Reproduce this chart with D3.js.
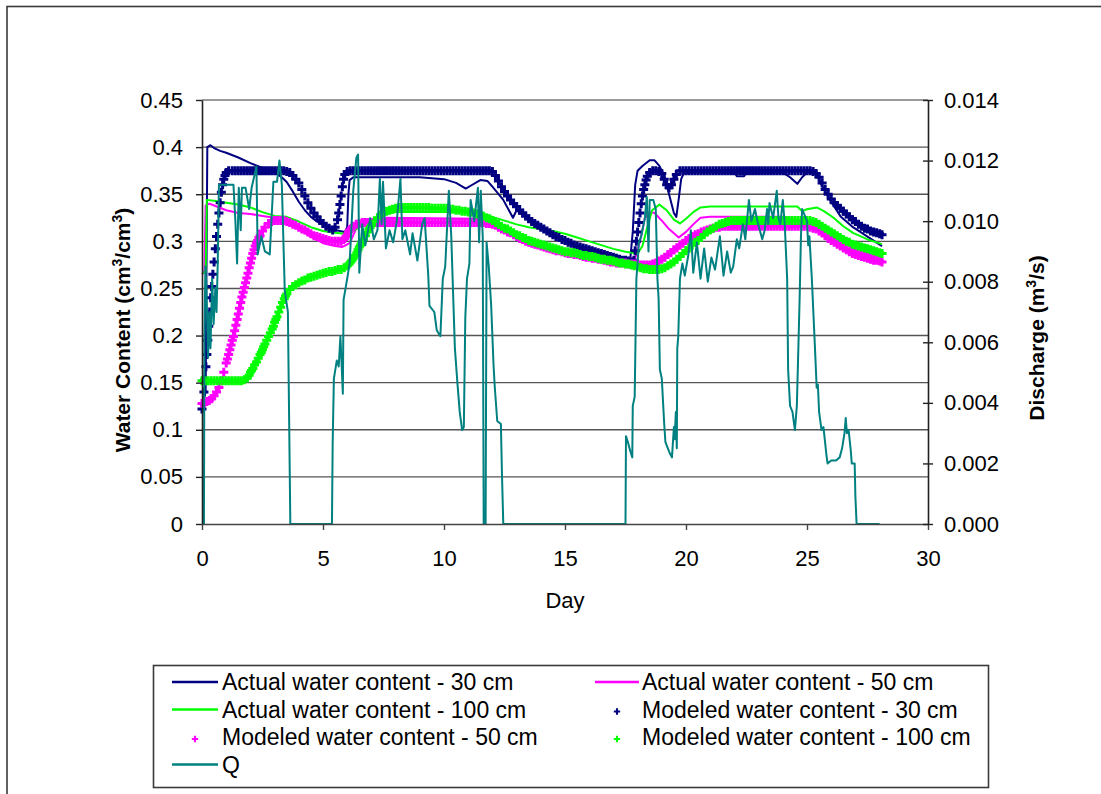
<!DOCTYPE html>
<html>
<head>
<meta charset="utf-8">
<script src="https://cdn.jsdelivr.net/npm/d3@7"></script>
<style>
  html, body { margin: 0; padding: 0; background: #fff; }
  svg { display: block; font-family: "Liberation Sans", Arial, sans-serif; }
</style>
</head>
<body>
<svg id="chart" width="1101" height="794"></svg>
<script>
// ---- Axis ticks and labels ----
const dayTicks = [0, 5, 10, 15, 20, 25, 30];
const dayTickLabels = ["0", "5", "10", "15", "20", "25", "30"];
const wcTicks = [0, 0.05, 0.1, 0.15, 0.2, 0.25, 0.3, 0.35, 0.4, 0.45];
const wcTickLabels = ["0", "0.05", "0.1", "0.15", "0.2", "0.25", "0.3", "0.35", "0.4", "0.45"];
const qTicks = [0, 0.002, 0.004, 0.006, 0.008, 0.010, 0.012, 0.014];
const qTickLabels = ["0.000", "0.002", "0.004", "0.006", "0.008", "0.010", "0.012", "0.014"];

// ---- Measured water content, [day, cm3/cm3] ----
const actual30 = [[0,0.125],[0.15,0.14],[0.22,0.4],[0.35,0.402],[0.5,0.399],[0.75,0.396],[1,0.394],[1.5,0.389],[2,0.383],[2.5,0.378],[3,0.373],[3.25,0.369],[3.5,0.363],[3.75,0.353],[4,0.342],[4.25,0.333],[4.5,0.326],[4.75,0.321],[5,0.318],[5.25,0.315],[5.5,0.312],[5.9,0.31],[6,0.315],[6.05,0.35],[6.1,0.365],[6.25,0.368],[7,0.368],[8,0.368],[9,0.368],[9.5,0.367],[10,0.366],[10.5,0.362],[10.9,0.356],[11.1,0.359],[11.5,0.365],[11.8,0.364],[12,0.358],[12.45,0.344],[12.85,0.325],[13,0.333],[13.5,0.323],[14,0.314],[14.5,0.306],[15,0.3],[15.5,0.294],[16,0.29],[16.5,0.287],[17,0.284],[17.5,0.282],[17.7,0.282],[17.8,0.31],[17.9,0.36],[18,0.375],[18.2,0.38],[18.5,0.386],[18.7,0.386],[18.9,0.38],[19.1,0.37],[19.3,0.35],[19.5,0.33],[19.6,0.326],[19.7,0.345],[19.8,0.366],[19.9,0.372],[20.2,0.373],[22,0.373],[22.1,0.369],[22.4,0.369],[22.5,0.373],[24,0.373],[24.3,0.368],[24.6,0.361],[24.8,0.368],[25,0.373],[25.4,0.372],[25.6,0.36],[25.95,0.344],[26.4,0.326],[26.9,0.315],[27.5,0.305],[28.1,0.295]];

const actual50 = [[0,0.265],[0.1,0.268],[0.15,0.338],[0.3,0.34],[0.5,0.338],[1,0.333],[1.5,0.33],[2,0.329],[2.5,0.327],[3,0.325],[3.5,0.321],[4,0.313],[4.5,0.305],[5,0.298],[5.5,0.295],[5.8,0.294],[6.1,0.298],[6.4,0.315],[6.7,0.322],[7.5,0.325],[11.5,0.324],[12,0.32],[12.5,0.313],[13,0.306],[13.5,0.301],[14,0.297],[14.5,0.294],[15,0.291],[15.5,0.289],[16,0.287],[16.5,0.285],[17,0.283],[17.5,0.282],[17.9,0.282],[18.1,0.3],[18.3,0.325],[18.5,0.331],[18.7,0.33],[19,0.322],[19.3,0.313],[19.7,0.304],[20,0.31],[20.3,0.318],[20.6,0.325],[21,0.326],[24,0.326],[24.5,0.323],[25,0.321],[25.5,0.316],[26,0.306],[26.5,0.298],[27,0.291],[27.5,0.287],[28.1,0.283]];

const actual100 = [[0,0.267],[0.15,0.267],[0.2,0.344],[0.5,0.343],[1,0.341],[1.5,0.339],[2,0.336],[2.5,0.331],[3,0.327],[3.5,0.326],[4,0.321],[4.5,0.315],[5,0.311],[5.5,0.309],[5.9,0.308],[6.3,0.312],[6.8,0.32],[7.3,0.327],[8,0.331],[11,0.331],[11.5,0.329],[12,0.326],[12.5,0.322],[13,0.318],[13.5,0.315],[14,0.313],[14.5,0.311],[15,0.308],[15.5,0.304],[16,0.3],[16.5,0.296],[17,0.292],[17.5,0.289],[18,0.287],[18.2,0.295],[18.4,0.315],[18.6,0.333],[18.9,0.339],[19.2,0.333],[19.5,0.323],[19.75,0.319],[20,0.324],[20.3,0.331],[20.6,0.336],[21,0.337],[24.6,0.337],[24.8,0.332],[25,0.334],[25.4,0.336],[25.7,0.332],[26.1,0.325],[26.5,0.316],[26.9,0.309],[27.5,0.302],[28.1,0.297]];

// ---- Modeled water content, [day, cm3/cm3] ----
const modeled30 = [[0,.122],[.04,.128],[.08,.14],[.12,.153],[.16,.167],[.2,.18],[.24,.195],[.28,.21],[.32,.225],[.36,.24],[.4,.252],[.45,.265],[.5,.278],[.55,.292],[.6,.305],[.65,.318],[.7,.33],[.75,.341],[.8,.352],[.85,.36],[.9,.366],[.95,.37],[1,.373],[1.1,.375],[1.25,.375],[1.375,.375],[1.5,.375],[1.625,.375],[1.75,.375],[1.875,.375],[2,.375],[2.125,.375],[2.25,.375],[2.375,.375],[2.5,.375],[2.625,.375],[2.75,.375],[2.875,.375],[3,.375],[3.125,.375],[3.25,.375],[3.375,.375],[3.5,.374],[3.625,.373],[3.75,.37],[3.875,.366],[4,.362],[4.125,.355],[4.25,.348],[4.375,.341],[4.5,.335],[4.625,.33],[4.75,.326],[4.875,.322],[5,.319],[5.125,.316],[5.25,.314],[5.4,.312],[5.5,.315],[5.6,.323],[5.65,.33],[5.7,.339],[5.75,.348],[5.8,.358],[5.85,.366],[5.9,.371],[6,.374],[6.125,.375],[6.25,.375],[6.375,.375],[6.5,.375],[6.625,.375],[6.75,.375],[6.875,.375],[7,.375],[7.125,.375],[7.25,.375],[7.375,.375],[7.5,.375],[7.625,.375],[7.75,.375],[7.875,.375],[8,.375],[8.125,.375],[8.25,.375],[8.375,.375],[8.5,.375],[8.625,.375],[8.75,.375],[8.875,.375],[9,.375],[9.125,.375],[9.25,.375],[9.375,.375],[9.5,.375],[9.625,.375],[9.75,.375],[9.875,.375],[10,.375],[10.125,.375],[10.25,.375],[10.375,.375],[10.5,.375],[10.625,.375],[10.75,.375],[10.875,.375],[11,.375],[11.125,.375],[11.25,.375],[11.375,.375],[11.5,.375],[11.625,.375],[11.75,.375],[11.875,.375],[12,.374],[12.125,.37],[12.25,.364],[12.375,.358],[12.5,.353],[12.625,.348],[12.75,.344],[12.875,.34],[13,.337],[13.125,.333],[13.25,.33],[13.375,.327],[13.5,.324],[13.625,.321],[13.75,.319],[13.875,.317],[14,.315],[14.125,.313],[14.25,.311],[14.375,.309],[14.5,.307],[14.625,.305],[14.75,.304],[14.875,.302],[15,.301],[15.125,.299],[15.25,.298],[15.375,.296],[15.5,.295],[15.625,.294],[15.75,.293],[15.875,.292],[16,.291],[16.125,.29],[16.25,.289],[16.375,.288],[16.5,.287],[16.625,.286],[16.75,.285],[16.875,.284],[17,.283],[17.125,.282],[17.25,.281],[17.375,.28],[17.5,.28],[17.625,.279],[17.75,.278],[17.85,.28],[17.9,.29],[17.95,.3],[18,.31],[18.05,.32],[18.1,.33],[18.15,.34],[18.2,.348],[18.25,.355],[18.3,.36],[18.35,.365],[18.4,.369],[18.5,.373],[18.625,.375],[18.75,.375],[18.875,.374],[19,.372],[19.1,.366],[19.2,.36],[19.3,.357],[19.4,.36],[19.5,.366],[19.6,.371],[19.75,.375],[19.875,.375],[20,.375],[20.125,.375],[20.25,.375],[20.375,.375],[20.5,.375],[20.625,.375],[20.75,.375],[20.875,.375],[21,.375],[21.125,.375],[21.25,.375],[21.375,.375],[21.5,.375],[21.625,.375],[21.75,.375],[21.875,.375],[22,.375],[22.125,.375],[22.25,.375],[22.375,.375],[22.5,.375],[22.625,.375],[22.75,.375],[22.875,.375],[23,.375],[23.125,.375],[23.25,.375],[23.375,.375],[23.5,.375],[23.625,.375],[23.75,.375],[23.875,.375],[24,.375],[24.125,.375],[24.25,.375],[24.375,.375],[24.5,.375],[24.625,.375],[24.75,.375],[24.875,.375],[25,.375],[25.125,.375],[25.25,.374],[25.375,.372],[25.5,.368],[25.625,.362],[25.75,.355],[25.875,.35],[26,.345],[26.125,.341],[26.25,.338],[26.375,.335],[26.5,.332],[26.625,.329],[26.75,.326],[26.875,.323],[27,.321],[27.125,.318],[27.25,.316],[27.375,.314],[27.5,.313],[27.625,.311],[27.75,.31],[27.875,.309],[28,.308],[28.1,.307]];

const modeled50 = [[0,.128],[.1,.128],[.2,.13],[.3,.131],[.4,.133],[.5,.136],[.6,.14],[.7,.145],[.8,.152],[.9,.161],[1,.171],[1.05,.175],[1.1,.18],[1.15,.185],[1.2,.19],[1.25,.195],[1.3,.199],[1.35,.205],[1.4,.211],[1.45,.217],[1.5,.223],[1.55,.229],[1.6,.235],[1.65,.241],[1.7,.246],[1.75,.251],[1.8,.256],[1.85,.261],[1.9,.266],[1.95,.272],[2,.277],[2.05,.282],[2.1,.287],[2.15,.291],[2.2,.295],[2.25,.298],[2.3,.301],[2.35,.304],[2.4,.306],[2.5,.311],[2.6,.315],[2.75,.319],[2.875,.321],[3,.322],[3.125,.322],[3.25,.322],[3.375,.322],[3.5,.321],[3.625,.32],[3.75,.318],[3.875,.317],[4,.315],[4.125,.313],[4.25,.312],[4.375,.31],[4.5,.308],[4.625,.306],[4.75,.305],[4.875,.304],[5,.303],[5.125,.302],[5.25,.301],[5.375,.3],[5.5,.3],[5.625,.3],[5.75,.3],[5.85,.302],[5.9,.303],[5.95,.305],[6,.307],[6.05,.31],[6.1,.312],[6.175,.314],[6.25,.316],[6.375,.318],[6.5,.319],[6.625,.32],[6.75,.32],[6.875,.32],[7,.32],[7.125,.32],[7.25,.32],[7.375,.32],[7.5,.32],[7.625,.32],[7.75,.32],[7.875,.32],[8,.32],[8.125,.32],[8.25,.32],[8.375,.32],[8.5,.32],[8.625,.32],[8.75,.32],[8.875,.32],[9,.32],[9.125,.32],[9.25,.32],[9.375,.32],[9.5,.32],[9.625,.32],[9.75,.32],[9.875,.32],[10,.32],[10.125,.32],[10.25,.32],[10.375,.32],[10.5,.32],[10.625,.32],[10.75,.32],[10.875,.32],[11,.32],[11.125,.32],[11.25,.32],[11.375,.32],[11.5,.32],[11.625,.32],[11.75,.319],[11.875,.319],[12,.318],[12.125,.317],[12.25,.315],[12.375,.313],[12.5,.312],[12.625,.31],[12.75,.309],[12.875,.307],[13,.305],[13.125,.303],[13.25,.302],[13.375,.3],[13.5,.299],[13.625,.298],[13.75,.297],[13.875,.296],[14,.295],[14.125,.294],[14.25,.293],[14.375,.292],[14.5,.291],[14.625,.29],[14.75,.29],[14.875,.289],[15,.288],[15.125,.287],[15.25,.287],[15.375,.286],[15.5,.286],[15.625,.285],[15.75,.284],[15.875,.283],[16,.283],[16.125,.282],[16.25,.282],[16.375,.281],[16.5,.281],[16.625,.28],[16.75,.279],[16.875,.278],[17,.278],[17.125,.277],[17.25,.277],[17.375,.277],[17.5,.277],[17.625,.276],[17.75,.276],[17.875,.276],[18,.276],[18.125,.275],[18.25,.275],[18.375,.275],[18.5,.275],[18.625,.276],[18.75,.277],[18.875,.279],[19,.281],[19.125,.283],[19.25,.286],[19.375,.288],[19.5,.291],[19.625,.293],[19.75,.296],[19.875,.298],[20,.301],[20.125,.303],[20.25,.305],[20.375,.307],[20.5,.308],[20.625,.31],[20.75,.311],[20.875,.312],[21,.313],[21.125,.314],[21.25,.315],[21.375,.315],[21.5,.316],[21.625,.316],[21.75,.316],[21.875,.316],[22,.316],[22.125,.316],[22.25,.316],[22.375,.316],[22.5,.316],[22.625,.316],[22.75,.316],[22.875,.316],[23,.316],[23.125,.316],[23.25,.316],[23.375,.316],[23.5,.316],[23.625,.316],[23.75,.316],[23.875,.316],[24,.316],[24.125,.316],[24.25,.316],[24.375,.316],[24.5,.316],[24.625,.316],[24.75,.316],[24.875,.316],[25,.316],[25.125,.315],[25.25,.314],[25.375,.313],[25.5,.311],[25.625,.309],[25.75,.306],[25.875,.303],[26,.301],[26.125,.299],[26.25,.297],[26.375,.295],[26.5,.293],[26.625,.291],[26.75,.289],[26.875,.287],[27,.286],[27.125,.285],[27.25,.284],[27.375,.283],[27.5,.282],[27.625,.281],[27.75,.28],[27.875,.28],[28,.279],[28.1,.278]];

const modeled100 = [[0,.152],[.125,.152],[.25,.152],[.375,.152],[.5,.152],[.625,.152],[.75,.152],[.875,.152],[1,.152],[1.125,.152],[1.25,.152],[1.375,.152],[1.5,.152],[1.625,.152],[1.75,.153],[1.875,.155],[1.95,.158],[2,.161],[2.05,.163],[2.1,.165],[2.175,.169],[2.25,.172],[2.325,.176],[2.4,.18],[2.45,.182],[2.5,.185],[2.55,.188],[2.6,.191],[2.675,.195],[2.75,.199],[2.825,.203],[2.9,.207],[2.95,.21],[3,.214],[3.05,.217],[3.1,.22],[3.175,.225],[3.25,.23],[3.325,.235],[3.4,.239],[3.45,.242],[3.5,.244],[3.625,.249],[3.75,.252],[3.875,.254],[4,.256],[4.125,.258],[4.25,.259],[4.375,.261],[4.5,.262],[4.625,.263],[4.75,.264],[4.875,.265],[5,.266],[5.125,.267],[5.25,.268],[5.375,.268],[5.5,.269],[5.625,.27],[5.75,.27],[5.875,.272],[6,.274],[6.075,.276],[6.15,.278],[6.2,.28],[6.25,.282],[6.325,.285],[6.4,.288],[6.45,.291],[6.5,.294],[6.55,.296],[6.6,.299],[6.675,.302],[6.75,.306],[6.825,.31],[6.9,.313],[6.95,.315],[7,.317],[7.125,.321],[7.25,.325],[7.375,.328],[7.5,.33],[7.625,.332],[7.75,.333],[7.875,.334],[8,.335],[8.125,.336],[8.25,.336],[8.375,.336],[8.5,.336],[8.625,.336],[8.75,.336],[8.875,.336],[9,.336],[9.125,.336],[9.25,.336],[9.375,.336],[9.5,.335],[9.625,.335],[9.75,.335],[9.875,.335],[10,.335],[10.125,.335],[10.25,.334],[10.375,.334],[10.5,.333],[10.625,.333],[10.75,.332],[10.875,.332],[11,.331],[11.125,.331],[11.25,.33],[11.375,.329],[11.5,.328],[11.625,.327],[11.75,.325],[11.875,.324],[12,.322],[12.125,.32],[12.25,.318],[12.375,.316],[12.5,.314],[12.625,.313],[12.75,.311],[12.875,.309],[13,.307],[13.125,.306],[13.25,.304],[13.375,.303],[13.5,.301],[13.625,.3],[13.75,.299],[13.875,.298],[14,.297],[14.125,.296],[14.25,.295],[14.375,.294],[14.5,.293],[14.625,.292],[14.75,.291],[14.875,.29],[15,.289],[15.125,.289],[15.25,.288],[15.375,.288],[15.5,.287],[15.625,.286],[15.75,.285],[15.875,.285],[16,.284],[16.125,.284],[16.25,.283],[16.375,.282],[16.5,.281],[16.625,.281],[16.75,.28],[16.875,.28],[17,.279],[17.125,.278],[17.25,.277],[17.375,.277],[17.5,.276],[17.625,.276],[17.75,.275],[17.875,.274],[18,.273],[18.125,.272],[18.25,.271],[18.375,.271],[18.5,.27],[18.625,.27],[18.75,.27],[18.875,.27],[19,.271],[19.125,.272],[19.25,.274],[19.375,.276],[19.5,.278],[19.625,.281],[19.75,.284],[19.875,.287],[20,.29],[20.125,.293],[20.25,.296],[20.375,.299],[20.5,.301],[20.625,.304],[20.75,.307],[20.875,.31],[21,.312],[21.125,.314],[21.25,.316],[21.375,.318],[21.5,.319],[21.625,.32],[21.75,.321],[21.875,.322],[22,.322],[22.125,.322],[22.25,.322],[22.375,.322],[22.5,.322],[22.625,.322],[22.75,.322],[22.875,.322],[23,.322],[23.125,.322],[23.25,.322],[23.375,.322],[23.5,.322],[23.625,.322],[23.75,.322],[23.875,.322],[24,.322],[24.125,.322],[24.25,.322],[24.375,.322],[24.5,.322],[24.625,.322],[24.75,.322],[24.875,.322],[25,.322],[25.125,.322],[25.25,.321],[25.375,.32],[25.5,.318],[25.625,.316],[25.75,.314],[25.875,.312],[26,.31],[26.125,.308],[26.25,.306],[26.375,.304],[26.5,.302],[26.625,.3],[26.75,.299],[26.875,.297],[27,.296],[27.125,.295],[27.25,.294],[27.375,.293],[27.5,.292],[27.625,.291],[27.75,.29],[27.875,.289],[28,.288],[28.1,.287]];

// ---- Discharge Q, [day, m3/s] ----
const discharge = [[0,0],[0.08,0],[0.1,0.0062],[0.14,0.0085],[0.18,0.0079],[0.25,0.0055],[0.3,0.007],[0.35,0.0058],[0.42,0.0081],[0.48,0.0066],[0.55,0.0078],[0.6,0.007],[0.65,0.0086],[0.7,0.0112],[0.8,0.0112],[1,0.0112],[1.3,0.0112],[1.38,0.01],[1.45,0.0086],[1.52,0.0111],[1.6,0.0097],[1.65,0.0111],[1.8,0.0111],[1.95,0.0104],[2.05,0.0111],[2.25,0.0118],[2.3,0.0089],[2.45,0.0095],[2.6,0.009],[2.8,0.0089],[2.95,0.0113],[3.1,0.0113],[3.2,0.012],[3.3,0.0112],[3.42,0.0077],[3.55,0.007],[3.6,0.0035],[3.65,0],[5.37,0],[5.4,0.0027],[5.45,0.0048],[5.57,0.0054],[5.65,0.0052],[5.72,0.0062],[5.82,0.0043],[5.85,0.0074],[6,0.0081],[6.1,0.0086],[6.25,0.011],[6.38,0.0121],[6.45,0.0122],[6.5,0.0083],[6.62,0.0099],[6.75,0.0092],[6.95,0.0101],[7.1,0.0094],[7.25,0.0097],[7.35,0.0114],[7.42,0.0099],[7.48,0.0113],[7.6,0.0091],[7.75,0.0097],[7.9,0.0093],[8.05,0.01],[8.2,0.0114],[8.28,0.0094],[8.4,0.0097],[8.6,0.0089],[8.7,0.0096],[8.9,0.0087],[9.1,0.0099],[9.2,0.0101],[9.35,0.0082],[9.4,0.0072],[9.6,0.007],[9.7,0.0064],[9.85,0.0062],[9.95,0.0081],[10.05,0.0085],[10.2,0.011],[10.3,0.0095],[10.45,0.0058],[10.55,0.0047],[10.65,0.0037],[10.75,0.0031],[10.82,0.0032],[10.88,0.0068],[10.95,0.0081],[11.05,0.0086],[11.1,0.0107],[11.25,0.01],[11.4,0.0111],[11.45,0.0093],[11.52,0.011],[11.6,0.0095],[11.64,0],[11.72,0],[11.76,0.0093],[11.85,0.0085],[11.95,0.0072],[12.05,0.0052],[12.1,0.0045],[12.2,0.0034],[12.35,0.0033],[12.4,0.0015],[12.45,0],[17.5,0],[17.52,0.0029],[17.6,0.0027],[17.7,0.0024],[17.78,0.0022],[17.8,0.0039],[17.88,0.0042],[17.95,0.0081],[18,0.0086],[18.05,0.0093],[18.15,0.0095],[18.3,0.0101],[18.38,0.0108],[18.45,0.009],[18.5,0.0107],[18.65,0.0107],[18.75,0.0104],[18.82,0.0081],[18.87,0.0074],[18.92,0.0051],[19,0.0048],[19.1,0.0033],[19.15,0.0027],[19.25,0.0025],[19.35,0.0023],[19.42,0.0022],[19.5,0.0032],[19.53,0.0028],[19.58,0.0037],[19.62,0.0025],[19.64,0.0058],[19.68,0.0062],[19.75,0.0081],[19.85,0.0086],[19.95,0.0082],[20.1,0.0089],[20.2,0.0097],[20.3,0.0083],[20.45,0.0093],[20.6,0.0081],[20.75,0.0091],[20.9,0.008],[21.05,0.0088],[21.2,0.0084],[21.4,0.0095],[21.55,0.0082],[21.7,0.009],[21.85,0.0083],[21.95,0.0085],[22.1,0.0094],[22.2,0.0091],[22.35,0.0099],[22.45,0.0094],[22.6,0.0107],[22.7,0.01],[22.85,0.0104],[22.95,0.01],[23.05,0.0097],[23.15,0.0094],[23.25,0.0097],[23.35,0.0104],[23.4,0.0099],[23.45,0.0106],[23.6,0.0101],[23.75,0.011],[23.82,0.0101],[23.9,0.0099],[24,0.0107],[24.08,0.0099],[24.18,0.0081],[24.22,0.0051],[24.3,0.0039],[24.4,0.0037],[24.5,0.0031],[24.58,0.0039],[24.62,0.0051],[24.7,0.0076],[24.75,0.0095],[24.8,0.0104],[25,0.01],[25.05,0.0092],[25.1,0.0095],[25.2,0.0081],[25.33,0.0058],[25.4,0.0045],[25.45,0.0046],[25.5,0.0037],[25.6,0.0031],[25.68,0.0032],[25.72,0.0029],[25.8,0.0023],[25.85,0.002],[26,0.0021],[26.2,0.0021],[26.35,0.0022],[26.45,0.0025],[26.55,0.003],[26.6,0.0035],[26.65,0.003],[26.72,0.0031],[26.8,0.0025],[26.85,0.002],[26.97,0.002],[27,0.0009],[27.05,0],[28,0]];

// ---- Series styles ----
const NAVY = "#000080", MAGENTA = "#ff00ff", GREEN = "#00ff00", TEAL = "#008080";

const svg = d3.select("#chart");

// Outer chart frame (continues past the page edge)
svg.append("rect")
  .attr("x", 7).attr("y", 6.5).attr("width", 1200).attr("height", 1000)
  .attr("fill", "none").attr("stroke", "#3a3a3a").attr("stroke-width", 1.6);

// ---- Scales ----
const x = d3.scaleLinear().domain([0, 30]).range([202, 928]);
const yWC = d3.scaleLinear().domain([0, 0.45]).range([524, 100]);
const yQ = d3.scaleLinear().domain([0, 0.014]).range([524, 100]);

// Horizontal gridlines
svg.append("g").selectAll("line")
  .data(wcTicks.filter(v => v > 0 && v < 0.45))
  .join("line")
  .attr("x1", x(0)).attr("x2", x(30))
  .attr("y1", d => yWC(d)).attr("y2", d => yWC(d))
  .attr("stroke", "#555").attr("stroke-width", 1.4);

// Plot-area top border
svg.append("line")
  .attr("x1", x(0)).attr("x2", x(30)).attr("y1", yWC(0.45)).attr("y2", yWC(0.45))
  .attr("stroke", "#9a9a9a").attr("stroke-width", 2);

// ---- Series ----
const lineWC = d3.line().x(d => x(d[0])).y(d => yWC(d[1]));
const lineQ = d3.line().x(d => x(d[0])).y(d => yQ(d[1]));
const cross = d3.symbol(d3.symbolCross, 45);

function drawLine(data, color, width) {
  svg.append("path").datum(data)
    .attr("d", lineWC).attr("fill", "none")
    .attr("stroke", color).attr("stroke-width", width)
    .attr("stroke-linejoin", "round");
}
function drawMarkers(data, color) {
  svg.append("g").selectAll("path").data(data).join("path")
    .attr("transform", d => `translate(${x(d[0])},${yWC(d[1])})`)
    .attr("d", cross).attr("fill", color);
}

drawLine(actual30, NAVY, 2);
drawLine(actual50, MAGENTA, 2);
drawLine(actual100, GREEN, 2);
drawMarkers(modeled30, NAVY);
drawMarkers(modeled50, MAGENTA);
drawMarkers(modeled100, GREEN);

svg.append("path").datum(discharge)
  .attr("d", lineQ).attr("fill", "none")
  .attr("stroke", TEAL).attr("stroke-width", 2)
  .attr("stroke-linejoin", "round");

// ---- Axes ----
const tickFont = g => g.selectAll("text")
  .attr("font-size", 22).attr("fill", "#000")
  .attr("font-family", "'Liberation Sans', Arial, sans-serif");

const axL = svg.append("g").attr("transform", `translate(${x(0)},0)`)
  .call(d3.axisLeft(yWC).tickValues(wcTicks)
    .tickFormat((d, i) => wcTickLabels[i]).tickSize(6).tickPadding(13).tickSizeOuter(0));
axL.call(tickFont);
axL.select(".domain").attr("stroke", "#222").attr("stroke-width", 1.6);
axL.selectAll(".tick line").attr("stroke", "#222").attr("stroke-width", 1.4);

const axB = svg.append("g").attr("transform", `translate(0,${yWC(0)})`)
  .call(d3.axisBottom(x).tickValues(dayTicks)
    .tickFormat((d, i) => dayTickLabels[i]).tickSize(6).tickPadding(20).tickSizeOuter(0));
axB.call(tickFont);
axB.select(".domain").attr("stroke", "#444").attr("stroke-width", 1.6);
axB.selectAll(".tick line").attr("stroke", "#444").attr("stroke-width", 1.4);

const axR = svg.append("g").attr("transform", `translate(${x(30)},0)`)
  .call(d3.axisRight(yQ).tickValues(qTicks)
    .tickFormat((d, i) => qTickLabels[i]).tickSize(5).tickPadding(11).tickSizeOuter(0));
axR.call(tickFont);
axR.select(".domain").attr("stroke", "#222").attr("stroke-width", 1.6);
axR.selectAll(".tick line").attr("stroke", "#222").attr("stroke-width", 1.4).attr("x1", -5);

// ---- Axis titles ----
const leftTitle = svg.append("text")
  .attr("transform", "translate(130,330) rotate(-90)")
  .attr("text-anchor", "middle").attr("font-size", 21).attr("font-weight", "bold");
leftTitle.append("tspan").text("Water Content (cm");
leftTitle.append("tspan").attr("font-size", 14).attr("dy", -8).text("3");
leftTitle.append("tspan").attr("dy", 8).text("/cm");
leftTitle.append("tspan").attr("font-size", 14).attr("dy", -8).text("3");
leftTitle.append("tspan").attr("dy", 8).text(")");

const rightTitle = svg.append("text")
  .attr("transform", "translate(1044,338) rotate(-90)")
  .attr("text-anchor", "middle").attr("font-size", 21).attr("font-weight", "bold");
rightTitle.append("tspan").text("Discharge (m");
rightTitle.append("tspan").attr("font-size", 14).attr("dy", -8).text("3");
rightTitle.append("tspan").attr("dy", 8).text("/s)");

svg.append("text").attr("x", 565).attr("y", 608)
  .attr("text-anchor", "middle").attr("font-size", 22).text("Day");

// ---- Legend ----
const legendItems = [
  { label: "Actual water content - 30 cm", color: NAVY, kind: "line", col: 0, row: 0 },
  { label: "Actual water content - 50 cm", color: MAGENTA, kind: "line", col: 1, row: 0 },
  { label: "Actual water content - 100 cm", color: GREEN, kind: "line", col: 0, row: 1 },
  { label: "Modeled water content - 30 cm", color: NAVY, kind: "marker", col: 1, row: 1 },
  { label: "Modeled water content - 50 cm", color: MAGENTA, kind: "marker", col: 0, row: 2 },
  { label: "Modeled water content - 100 cm", color: GREEN, kind: "marker", col: 1, row: 2 },
  { label: "Q", color: TEAL, kind: "line", col: 0, row: 3 }
];

svg.append("rect")
  .attr("x", 153.5).attr("y", 665.5).attr("width", 835).attr("height", 122)
  .attr("fill", "#fff").attr("stroke", "#3a3a3a").attr("stroke-width", 1.6);

const colX = [{ l0: 172, l1: 218, tx: 222 }, { l0: 595, l1: 639, tx: 642 }];
const rowY = [682, 709.5, 737, 764.5];
const lg = svg.append("g").selectAll("g").data(legendItems).join("g")
  .attr("transform", d => `translate(0,${rowY[d.row]})`);
lg.filter(d => d.kind === "line").append("line")
  .attr("x1", d => colX[d.col].l0).attr("x2", d => colX[d.col].l1)
  .attr("stroke", d => d.color).attr("stroke-width", 2.5);
lg.filter(d => d.kind === "marker").append("path")
  .attr("transform", d => `translate(${(colX[d.col].l0 + colX[d.col].l1) / 2},2)`)
  .attr("d", d3.symbol(d3.symbolCross, 22)).attr("fill", d => d.color);
lg.append("text")
  .attr("x", d => colX[d.col].tx).attr("y", 8)
  .attr("font-size", 23).text(d => d.label);
</script>
</body>
</html>
